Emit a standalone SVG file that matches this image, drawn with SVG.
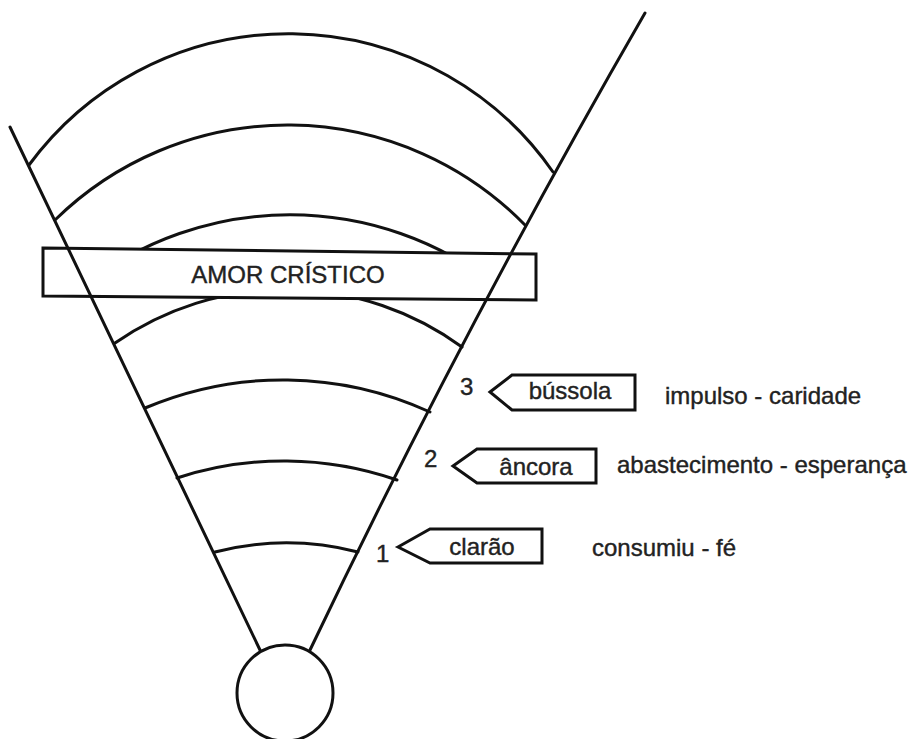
<svg xmlns="http://www.w3.org/2000/svg" width="918" height="739" viewBox="0 0 918 739">
<style>
.ln{fill:none;stroke:#111;stroke-width:3;stroke-linecap:round}
.box{fill:#fff;stroke:#111;stroke-width:3}
.t{font-family:"Liberation Sans",Arial,sans-serif;font-size:24px;fill:#222;stroke:#222;stroke-width:0.4}
</style>
<rect width="918" height="739" fill="#fff"/>
<g id="arcs">
<path class="ln" d="M29,165 A322,322 0 0 1 553,172"/>
<path class="ln" d="M55,220 A332,332 0 0 1 525,225"/>
<path class="ln" d="M86,284 A335,335 0 0 1 494,284"/>
<path class="ln" d="M115,343 A299,299 0 0 1 462,347"/>
<path class="ln" d="M145,408 A353,353 0 0 1 430,412"/>
<path class="ln" d="M177,478 A345,345 0 0 1 397,480"/>
<path class="ln" d="M215,552 A288,288 0 0 1 358,552"/>
</g>
<g id="amor-cristico">
<polygon class="box" points="43,248 536,254 536,300 43,296"/>
<text class="t" x="288" y="283" text-anchor="middle">AMOR CRÍSTICO</text>
</g>
<g id="connectors">
<path class="ln" d="M10,127 L260,650"/>
<path class="ln" d="M645,13 Q465,325 310,650"/>
</g>
<g id="origin">
<circle class="box" cx="285" cy="693" r="48"/>
</g>
<g id="tag-bussola">
<polygon class="box" points="490,392 512,375 635,375 635,410 512,410"/>
<text class="t" x="570" y="399" text-anchor="middle">bússola</text>
<text class="t" x="460" y="395">3</text>
<text class="t" x="665" y="404">impulso - caridade</text>
</g>
<g id="tag-ancora">
<polygon class="box" points="453,466 477,449 596,449 596,483 477,483"/>
<text class="t" x="536" y="475" text-anchor="middle">âncora</text>
<text class="t" x="424" y="467">2</text>
<text class="t" x="617" y="473">abastecimento - esperança</text>
</g>
<g id="tag-clarao">
<polygon class="box" points="398,547 430,529 542,529 542,563 430,563"/>
<text class="t" x="482" y="555" text-anchor="middle">clarão</text>
<text class="t" x="376" y="562">1</text>
<text class="t" x="592" y="556">consumiu - fé</text>
</g>
</svg>
